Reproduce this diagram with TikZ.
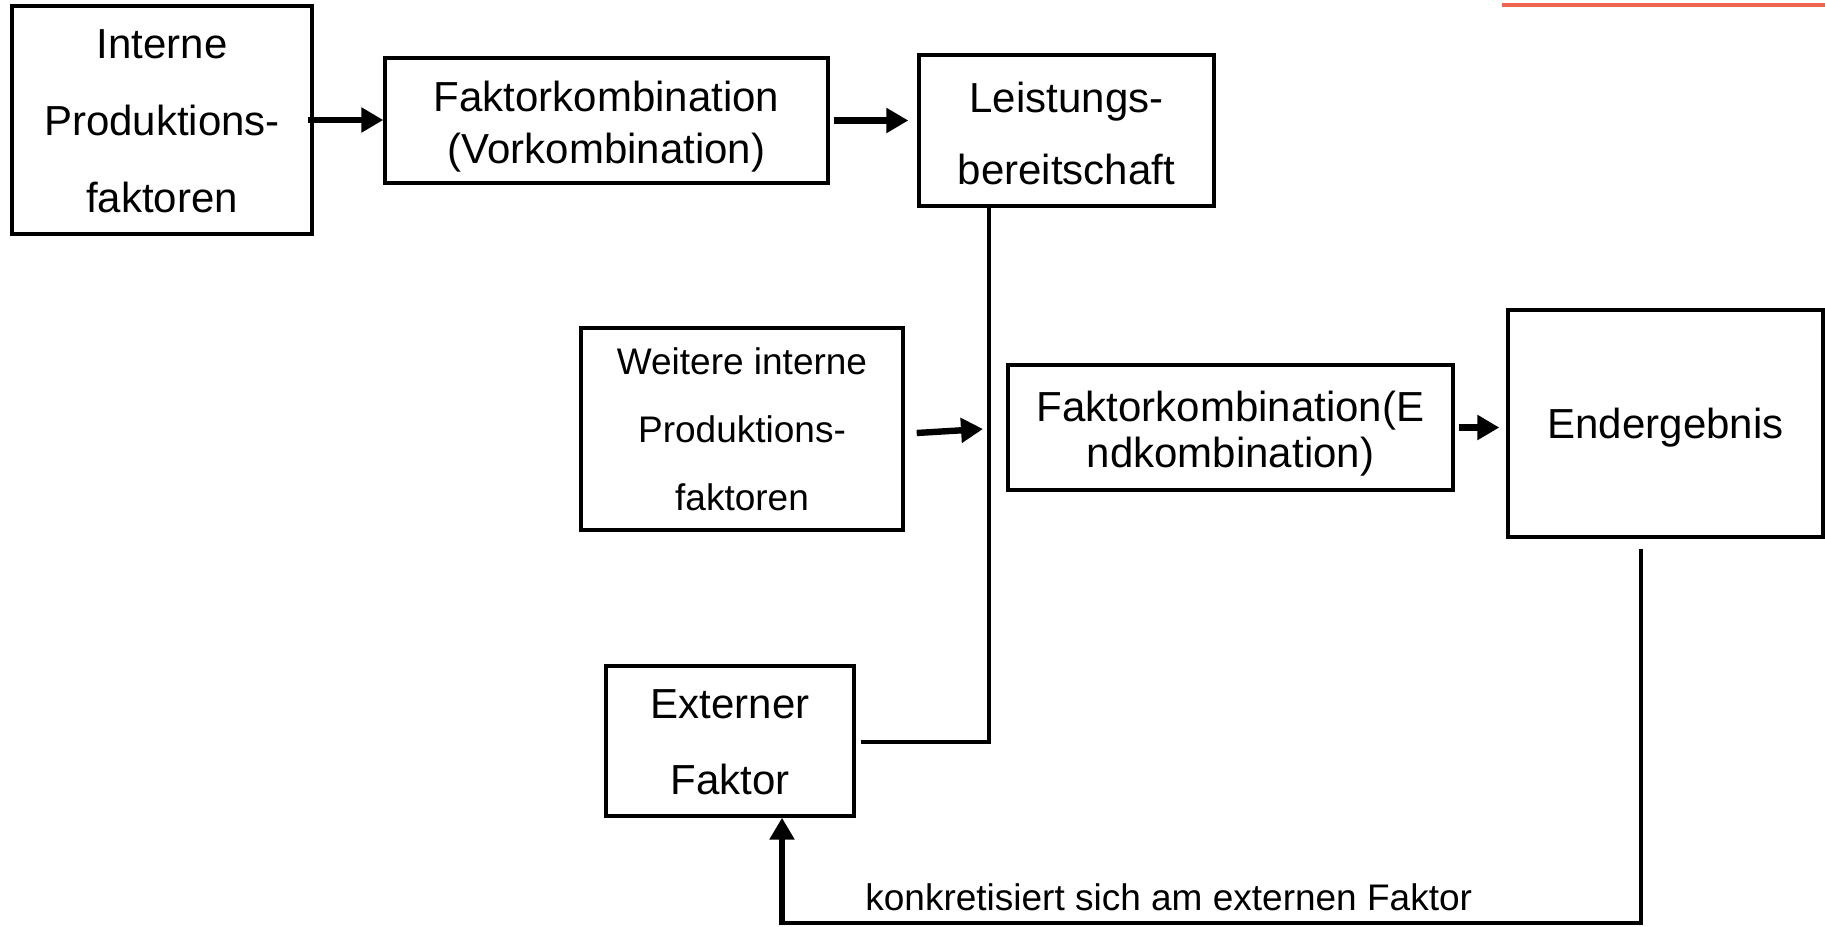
\documentclass[tikz,border=0pt]{standalone}
\usepackage{fontspec}
\setmainfont{Liberation Sans}
\usetikzlibrary{arrows.meta}
\definecolor{redline}{RGB}{238,102,80}
\tikzset{
 box/.style={draw, line width=1.7pt, inner sep=0pt},
 txt/.style={inner sep=0pt, align=center},
 arr/.style={line width=3.2pt, -{Triangle[length=11pt,width=12pt]}},
 conn/.style={line width=1.7pt},
}
\begin{document}
\begin{tikzpicture}[x=0.5pt,y=-0.5pt]
\useasboundingbox (0,0) rectangle (1825,926);
\draw[redline, line width=2pt] (1502,5) -- (1825,5);
\node[box, minimum width=150pt, minimum height=114pt] (B1) at (162,120) {};
\node[box, minimum width=221.5pt, minimum height=62.5pt] (B2) at (606.5,120.5) {};
\node[box, minimum width=147.5pt, minimum height=75.5pt] (B3) at (1066.5,130.5) {};
\node[box, minimum width=161pt, minimum height=101pt] (B4) at (742,429) {};
\node[box, minimum width=222.5pt, minimum height=62.5pt] (B5) at (1230.5,427.5) {};
\node[box, minimum width=157.5pt, minimum height=113.5pt] (B6) at (1665.5,423.5) {};
\node[box, minimum width=124pt, minimum height=75pt] (B7) at (730,741) {};
\node[txt, font=\fontsize{21}{38.4}\selectfont] (T1) at ([yshift=-0.6pt]B1.center) {Interne\\Produktions-\\faktoren};
\node[txt, font=\fontsize{21}{26}\selectfont] (T2) at ([yshift=-2.9pt]B2.center) {Faktorkombination\\(Vorkombination)};
\node[txt, font=\fontsize{21}{36}\selectfont] (T3) at ([yshift=-1.5pt]B3.center) {Leistungs-\\bereitschaft};
\node[txt, font=\fontsize{18.5}{34}\selectfont] (T4) at ([yshift=-0.3pt]B4.center) {Weitere interne\\Produktions-\\faktoren};
\node[txt, font=\fontsize{21}{23}\selectfont] (T5) at ([yshift=-2.9pt]B5.center) {Faktorkombination(E\\ndkombination)};
\node[txt, font=\fontsize{21}{26}\selectfont] (T6) at ([yshift=-2.3pt]B6.center) {Endergebnis};
\node[txt, font=\fontsize{21}{38}\selectfont] (T7) at ([yshift=-0.6pt]B7.center) {Externer\\Faktor};
\coordinate (j) at (989,742);
\coordinate (k) at (1641,923);
\coordinate (m) at (782,923);
\node[anchor=base west, inner sep=0pt, font=\fontsize{18.5}{22}\selectfont] (L) at (865,910) {konkretisiert sich am externen Faktor};
\draw[arr] ([xshift=-3pt]B1.east) -- (B2.west |- B1.east);
\draw[arr] ([xshift=2pt]B2.east) -- ([xshift=-4.5pt]B3.west |- B2.east);
\draw[arr] ([xshift=6pt,yshift=-2pt]B4.east) -- ([xshift=-3pt]B4.east -| j);
\draw[arr] ([xshift=2pt]B5.east) -- ([xshift=-3.5pt]B6.west |- B5.east);
\draw[conn] (B3.south -| j) -- (j) -- ([xshift=2.5pt]B7.east |- j);
\draw[conn] ([yshift=-5pt]B6.south -| k) -- (k) -- (m);
\draw[arr, line cap=butt] ([yshift=-0.8pt]m) -- (B7.south -| m);
\end{tikzpicture}
\end{document}
